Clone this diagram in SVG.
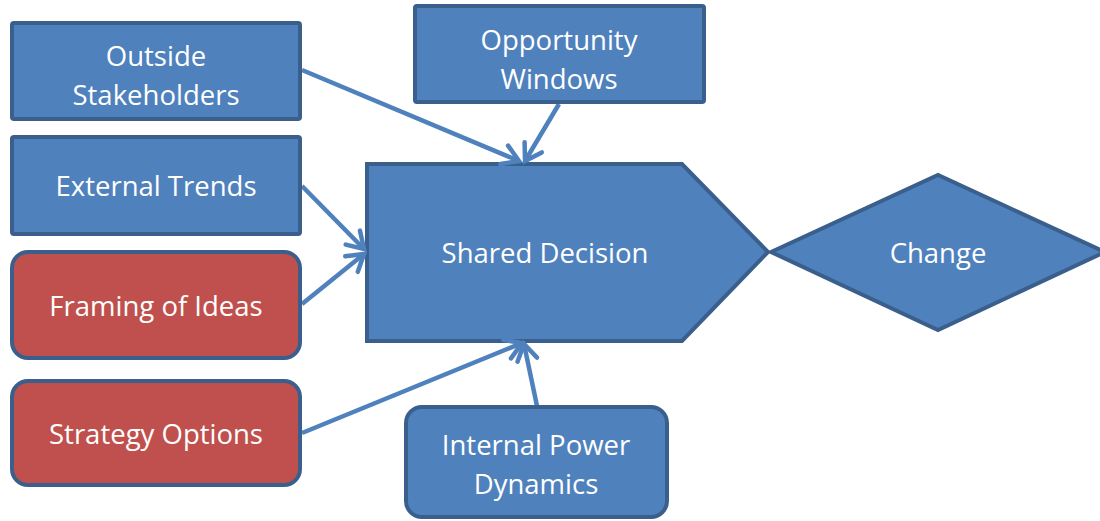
<svg xmlns="http://www.w3.org/2000/svg" width="1100" height="521" viewBox="0 0 1100 521">
  <style>
    .box { fill: #4F81BD; stroke: #3A5F8C; stroke-width: 4; }
    .red { fill: #C0504D; stroke: #3A5F8C; stroke-width: 4; }
    .lbl { font-family: "Open Sans", Lato, sans-serif; font-size: 27.5px; fill: #FFFFFF; text-anchor: middle; }
    .link { stroke: #4F81BD; stroke-width: 4.5; fill: none; marker-end: url(#vhead); }
  </style>
  <defs>
    <marker id="vhead" markerUnits="userSpaceOnUse" viewBox="-20 -12 24 24" refX="0" refY="0" markerWidth="24" markerHeight="24" orient="auto" overflow="visible">
      <path d="M-16,-10 L0,0 L-16,10" fill="none" stroke="#4F81BD" stroke-width="4.5" stroke-linecap="round" stroke-linejoin="miter"/>
    </marker>
  </defs>

  <g id="shared-decision">
    <path class="box" d="M367,164 L682,164 L768,252 L682,341 L367,341 Z"/>
    <text class="lbl" x="545" y="263">Shared Decision</text>
  </g>

  <g id="change">
    <path class="box" d="M771,252 L938,175 L1105,252 L938,330 Z"/>
    <text class="lbl" x="938" y="263">Change</text>
  </g>

  <g id="connectors">
    <line class="link" x1="302" y1="70" x2="519" y2="161"/>
    <line class="link" x1="559" y1="104" x2="525" y2="161"/>
    <line class="link" x1="302" y1="186" x2="364" y2="249"/>
    <line class="link" x1="302" y1="304" x2="364" y2="254"/>
    <line class="link" x1="302" y1="433" x2="522" y2="343"/>
    <line class="link" x1="537" y1="406" x2="524" y2="344"/>
  </g>

  <g id="outside-stakeholders">
    <rect class="box" x="12" y="23" width="288" height="96" rx="2"/>
    <text class="lbl" x="156" y="66">Outside</text>
    <text class="lbl" x="156" y="105">Stakeholders</text>
  </g>

  <g id="opportunity-windows">
    <rect class="box" x="415" y="6" width="289" height="96" rx="2"/>
    <text class="lbl" x="559" y="50">Opportunity</text>
    <text class="lbl" x="559" y="89">Windows</text>
  </g>

  <g id="external-trends">
    <rect class="box" x="12" y="137" width="288" height="97" rx="2"/>
    <text class="lbl" x="156" y="196">External Trends</text>
  </g>

  <g id="framing-of-ideas">
    <rect class="red" x="12" y="252" width="288" height="106" rx="16"/>
    <text class="lbl" x="156" y="316">Framing of Ideas</text>
  </g>

  <g id="strategy-options">
    <rect class="red" x="12" y="381" width="288" height="104" rx="16"/>
    <text class="lbl" x="156" y="444">Strategy Options</text>
  </g>

  <g id="internal-power-dynamics">
    <rect class="box" x="406" y="407" width="261" height="110" rx="16"/>
    <text class="lbl" x="536" y="455">Internal Power</text>
    <text class="lbl" x="536" y="494">Dynamics</text>
  </g>
</svg>
